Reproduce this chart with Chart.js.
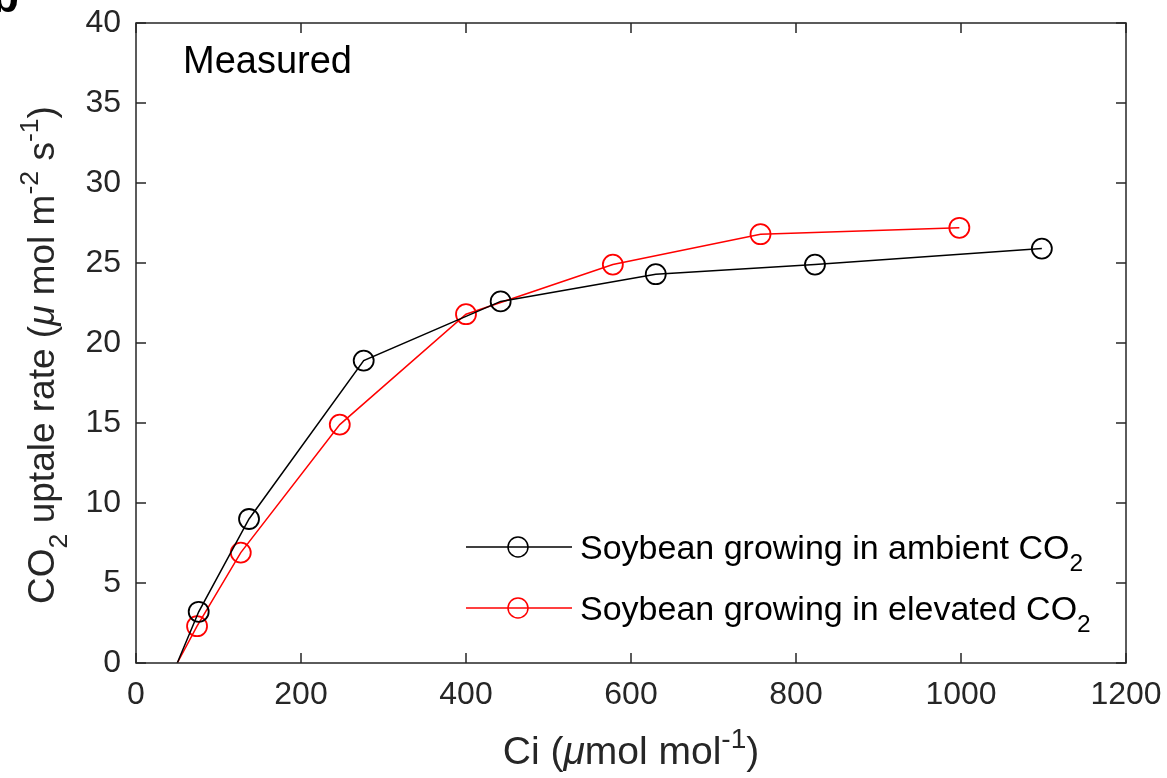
<!DOCTYPE html>
<html>
<head>
<meta charset="utf-8">
<script src="https://cdn.jsdelivr.net/npm/chart.js@4/dist/chart.umd.min.js"></script>
<style>
  body { margin: 0; background: #fff; }
  #wrap { width: 1167px; height: 778px; }
</style>
</head>
<body>
<div id="wrap"><canvas id="co2Chart" width="1167" height="778"></canvas></div>
<script>
// data
const ciAmbient = [50, 76, 137, 276, 442, 630, 823, 1098];
const rateAmbient = [0, 3.2, 9.0, 18.9, 22.6, 24.3, 24.9, 25.9];
const ciElevated = [50, 74, 127, 247, 400, 578, 757, 998];
const rateElevated = [0, 2.3, 6.9, 14.9, 21.8, 24.9, 26.8, 27.2];
const xTicks = [0, 200, 400, 600, 800, 1000, 1200];
const yTicks = [0, 5, 10, 15, 20, 25, 30, 35, 40];
const seriesNames = ['Soybean growing in ambient CO', 'Soybean growing in elevated CO'];

const FONT = '"Liberation Sans", Arial, Helvetica, sans-serif';
const AXIS = '#262626';

const toPoints = (xs, ys) => xs.map((x, i) => ({ x: x, y: ys[i] }));
// first point is the x-intercept, drawn without a marker
const radii = xs => xs.map((_, i) => i === 0 ? 0 : 10);

// draw text with sub/superscript pieces: [text, style]
function richText(ctx, parts, x, y, size, align) {
  const small = size * 0.72;
  const fontOf = p => (p[1] === 'it' ? 'italic ' : '') + (p[1] === 'sub' || p[1] === 'sup' ? small : size) + 'px ' + FONT;
  let total = 0;
  parts.forEach(p => { ctx.font = fontOf(p); total += ctx.measureText(p[0]).width; });
  let cx = align === 'center' ? x - total / 2 : x;
  ctx.textAlign = 'left';
  ctx.textBaseline = 'alphabetic';
  parts.forEach(p => {
    ctx.font = fontOf(p);
    let dy = 0;
    if (p[1] === 'sub') dy = size * 0.36;
    if (p[1] === 'sup') dy = -size * 0.42;
    ctx.fillText(p[0], cx, y + dy);
    cx += ctx.measureText(p[0]).width;
  });
}

const decorations = {
  id: 'decorations',
  afterDraw(chart) {
    const ctx = chart.ctx;
    const a = chart.chartArea;
    const xs = chart.scales.x, ys = chart.scales.y;
    ctx.save();

    // box and inward ticks
    ctx.strokeStyle = AXIS;
    ctx.lineWidth = 1.5;
    ctx.strokeRect(a.left, a.top, a.right - a.left, a.bottom - a.top);
    ctx.beginPath();
    xTicks.forEach(v => {
      const px = xs.getPixelForValue(v);
      ctx.moveTo(px, a.bottom); ctx.lineTo(px, a.bottom - 10);
      ctx.moveTo(px, a.top); ctx.lineTo(px, a.top + 10);
    });
    yTicks.forEach(v => {
      const py = ys.getPixelForValue(v);
      ctx.moveTo(a.left, py); ctx.lineTo(a.left + 10, py);
      ctx.moveTo(a.right, py); ctx.lineTo(a.right - 10, py);
    });
    ctx.stroke();

    ctx.fillStyle = '#000';
    // panel note
    ctx.font = '38px ' + FONT;
    ctx.textAlign = 'left';
    ctx.textBaseline = 'alphabetic';
    ctx.fillText('Measured', 183, 73);

    // clipped panel letter
    ctx.font = 'bold 44px ' + FONT;
    ctx.fillText('b', -8, 12);

    // legend
    const colors = ['#000000', '#ff0000'];
    const rows = [547, 608];
    rows.forEach((ry, i) => {
      ctx.strokeStyle = colors[i];
      ctx.lineWidth = 1.5;
      ctx.beginPath();
      ctx.moveTo(466, ry); ctx.lineTo(572, ry);
      ctx.stroke();
      ctx.beginPath();
      ctx.arc(518, ry, 10, 0, Math.PI * 2);
      ctx.stroke();
      ctx.fillStyle = '#000';
      richText(ctx, [[seriesNames[i], 'n'], ['2', 'sub']], 580, ry + 12, 34, 'left');
    });

    // axis titles
    ctx.fillStyle = AXIS;
    richText(ctx, [['Ci (', 'n'], ['\u03bc', 'it'], ['mol mol', 'n'], ['-1', 'sup'], [')', 'n']],
      631, 764, 39, 'center');
    ctx.translate(54, 355);
    ctx.rotate(-Math.PI / 2);
    richText(ctx, [['CO', 'n'], ['2', 'sub'], [' uptale rate (', 'n'], ['\u03bc', 'it'],
      [' mol m', 'n'], ['-2', 'sup'], [' s', 'n'], ['-1', 'sup'], [')', 'n']], 0, 0, 37, 'center');
    ctx.restore();
  }
};

// let layout.padding alone decide the plot box
const noOverhang = s => { s.paddingLeft = 0; s.paddingRight = 0; s.paddingTop = 0; s.paddingBottom = 0; };

new Chart(document.getElementById('co2Chart'), {
  type: 'scatter',
  data: {
    datasets: [
      {
        label: seriesNames[0],
        data: toPoints(ciAmbient, rateAmbient),
        showLine: true,
        borderColor: '#000000',
        borderWidth: 1.5,
        backgroundColor: 'rgba(0,0,0,0)',
        pointBorderColor: '#000000',
        pointBorderWidth: 1.8,
        pointRadius: radii(ciAmbient),
        pointStyle: 'circle'
      },
      {
        label: seriesNames[1],
        data: toPoints(ciElevated, rateElevated),
        showLine: true,
        borderColor: '#ff0000',
        borderWidth: 1.5,
        backgroundColor: 'rgba(0,0,0,0)',
        pointBorderColor: '#ff0000',
        pointBorderWidth: 1.8,
        pointRadius: radii(ciElevated),
        pointStyle: 'circle'
      }
    ]
  },
  options: {
    responsive: false,
    animation: false,
    layout: { padding: { left: 0, top: 23, right: 41, bottom: 0 } },
    scales: {
      x: {
        type: 'linear', min: 0, max: 1200,
        afterFit: s => { s.height = 115; noOverhang(s); },
        afterBuildTicks: s => { s.ticks = xTicks.map(v => ({ value: v })); },
        grid: { display: false, drawTicks: false },
        border: { display: false },
        ticks: { color: AXIS, padding: 13, maxRotation: 0, callback: v => String(v), font: { family: FONT, size: 32 } }
      },
      y: {
        type: 'linear', min: 0, max: 40,
        afterFit: s => { s.width = 136; noOverhang(s); },
        afterBuildTicks: s => { s.ticks = yTicks.map(v => ({ value: v })); },
        grid: { display: false, drawTicks: false },
        border: { display: false },
        ticks: { color: AXIS, padding: 15, callback: v => String(v), font: { family: FONT, size: 32 } }
      }
    },
    plugins: {
      legend: { display: false },
      tooltip: { enabled: false }
    }
  },
  plugins: [decorations]
});
</script>
</body>
</html>
